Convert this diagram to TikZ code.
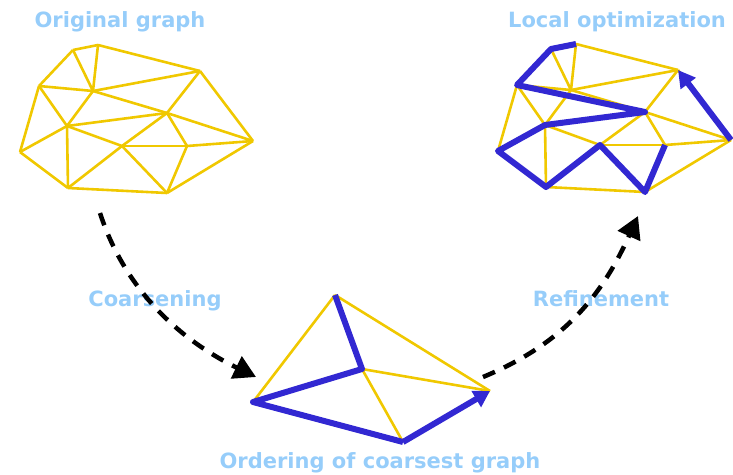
\documentclass[tikz,border=0pt]{standalone}
\usepackage{fontspec}
\setmainfont{DejaVu Sans}
\usetikzlibrary{arrows.meta}
\definecolor{edgeyel}{RGB}{240,200,0}
\definecolor{pathblue}{RGB}{50,40,210}
\definecolor{labblue}{RGB}{150,205,250}
\tikzset{
  yel/.style={draw=edgeyel,line width=2.6pt},
  blu/.style={draw=pathblue,line width=6pt,line join=round},
  lab/.style={text=labblue,font=\fontsize{21}{23}\selectfont\bfseries,anchor=base},
  flow/.style={line width=4.5pt,dash pattern=on 13pt off 10pt,-{Triangle[length=22pt,width=24pt]}}
}
\begin{document}
\begin{tikzpicture}[x=1pt,y=-1pt]
      \useasboundingbox (0,0) rectangle (733,474);
      % fine graph: o* is the original, l* the optimized copy
      \foreach \n/\x/\y in {a/73/50,b/98/45,c/200/71,d/39/86,e/93/91,f/167/113,g/67/126,
        h/20/152,i/122/146,j/187/146,k/253/141,l/68/188,m/167/193}{
        \coordinate (o\n) at (\x,\y);
        \coordinate (l\n) at (\x+478,\y-1);
      }
      \foreach \p/\q in {a/b,b/c,a/d,a/e,b/e,d/e,e/c,c/f,c/k,d/g,d/h,e/g,e/f,g/f,g/h,g/i,
        g/l,h/l,f/i,f/j,f/k,i/j,j/k,i/l,i/m,j/m,m/k,l/m}{
        \draw[yel] (o\p) -- (o\q);
        \draw[yel] (l\p) -- (l\q);
      }
      \draw[blu] (lb) -- (la) -- (ld) -- (lf) -- (lg) -- (lh) -- (ll) -- (li) -- (lm) -- (lj);
      \draw[blu,-{Triangle[length=17pt,width=18pt]}] (lk) -- (lc);

      % coarsest graph
      \coordinate (P1) at (335,295);
      \coordinate (P2) at (253,402);
      \coordinate (P3) at (362,369);
      \coordinate (P4) at (490,391);
      \coordinate (P5) at (403,442);
      \draw[yel] (P1) -- (P2);
      \draw[yel] (P1) -- (P4);
      \draw[yel] (P3) -- (P4);
      \draw[yel] (P3) -- (P5);
      \draw[blu] (P1) -- (P3) -- (P2) -- (P5);
      \draw[blu,-{Triangle[length=16pt,width=18pt]}] (P5) -- (P4);

      % labels
      \node[lab] (orig) at (120,27) {Original graph};
      \node[lab] (opt) at (617,27) {Local optimization};
      \node[lab] (coarse) at (155,306) {Coarsening};
      \node[lab] (refine) at (601,306) {Refinement};
      \node[lab] (order) at (380,468) {Ordering of coarsest graph};

      % flow between the stages
      \coordinate (cs) at (100,213);
      \coordinate (ce) at (256,377);
      \coordinate (rs) at (483,377);
      \coordinate (re) at (638,216);
      \draw[flow] (cs) .. controls (125,290) and (180,340) .. (ce);
      \draw[flow] (rs) .. controls (560,345) and (600,300) .. (re);
    \end{tikzpicture}
\end{document}
